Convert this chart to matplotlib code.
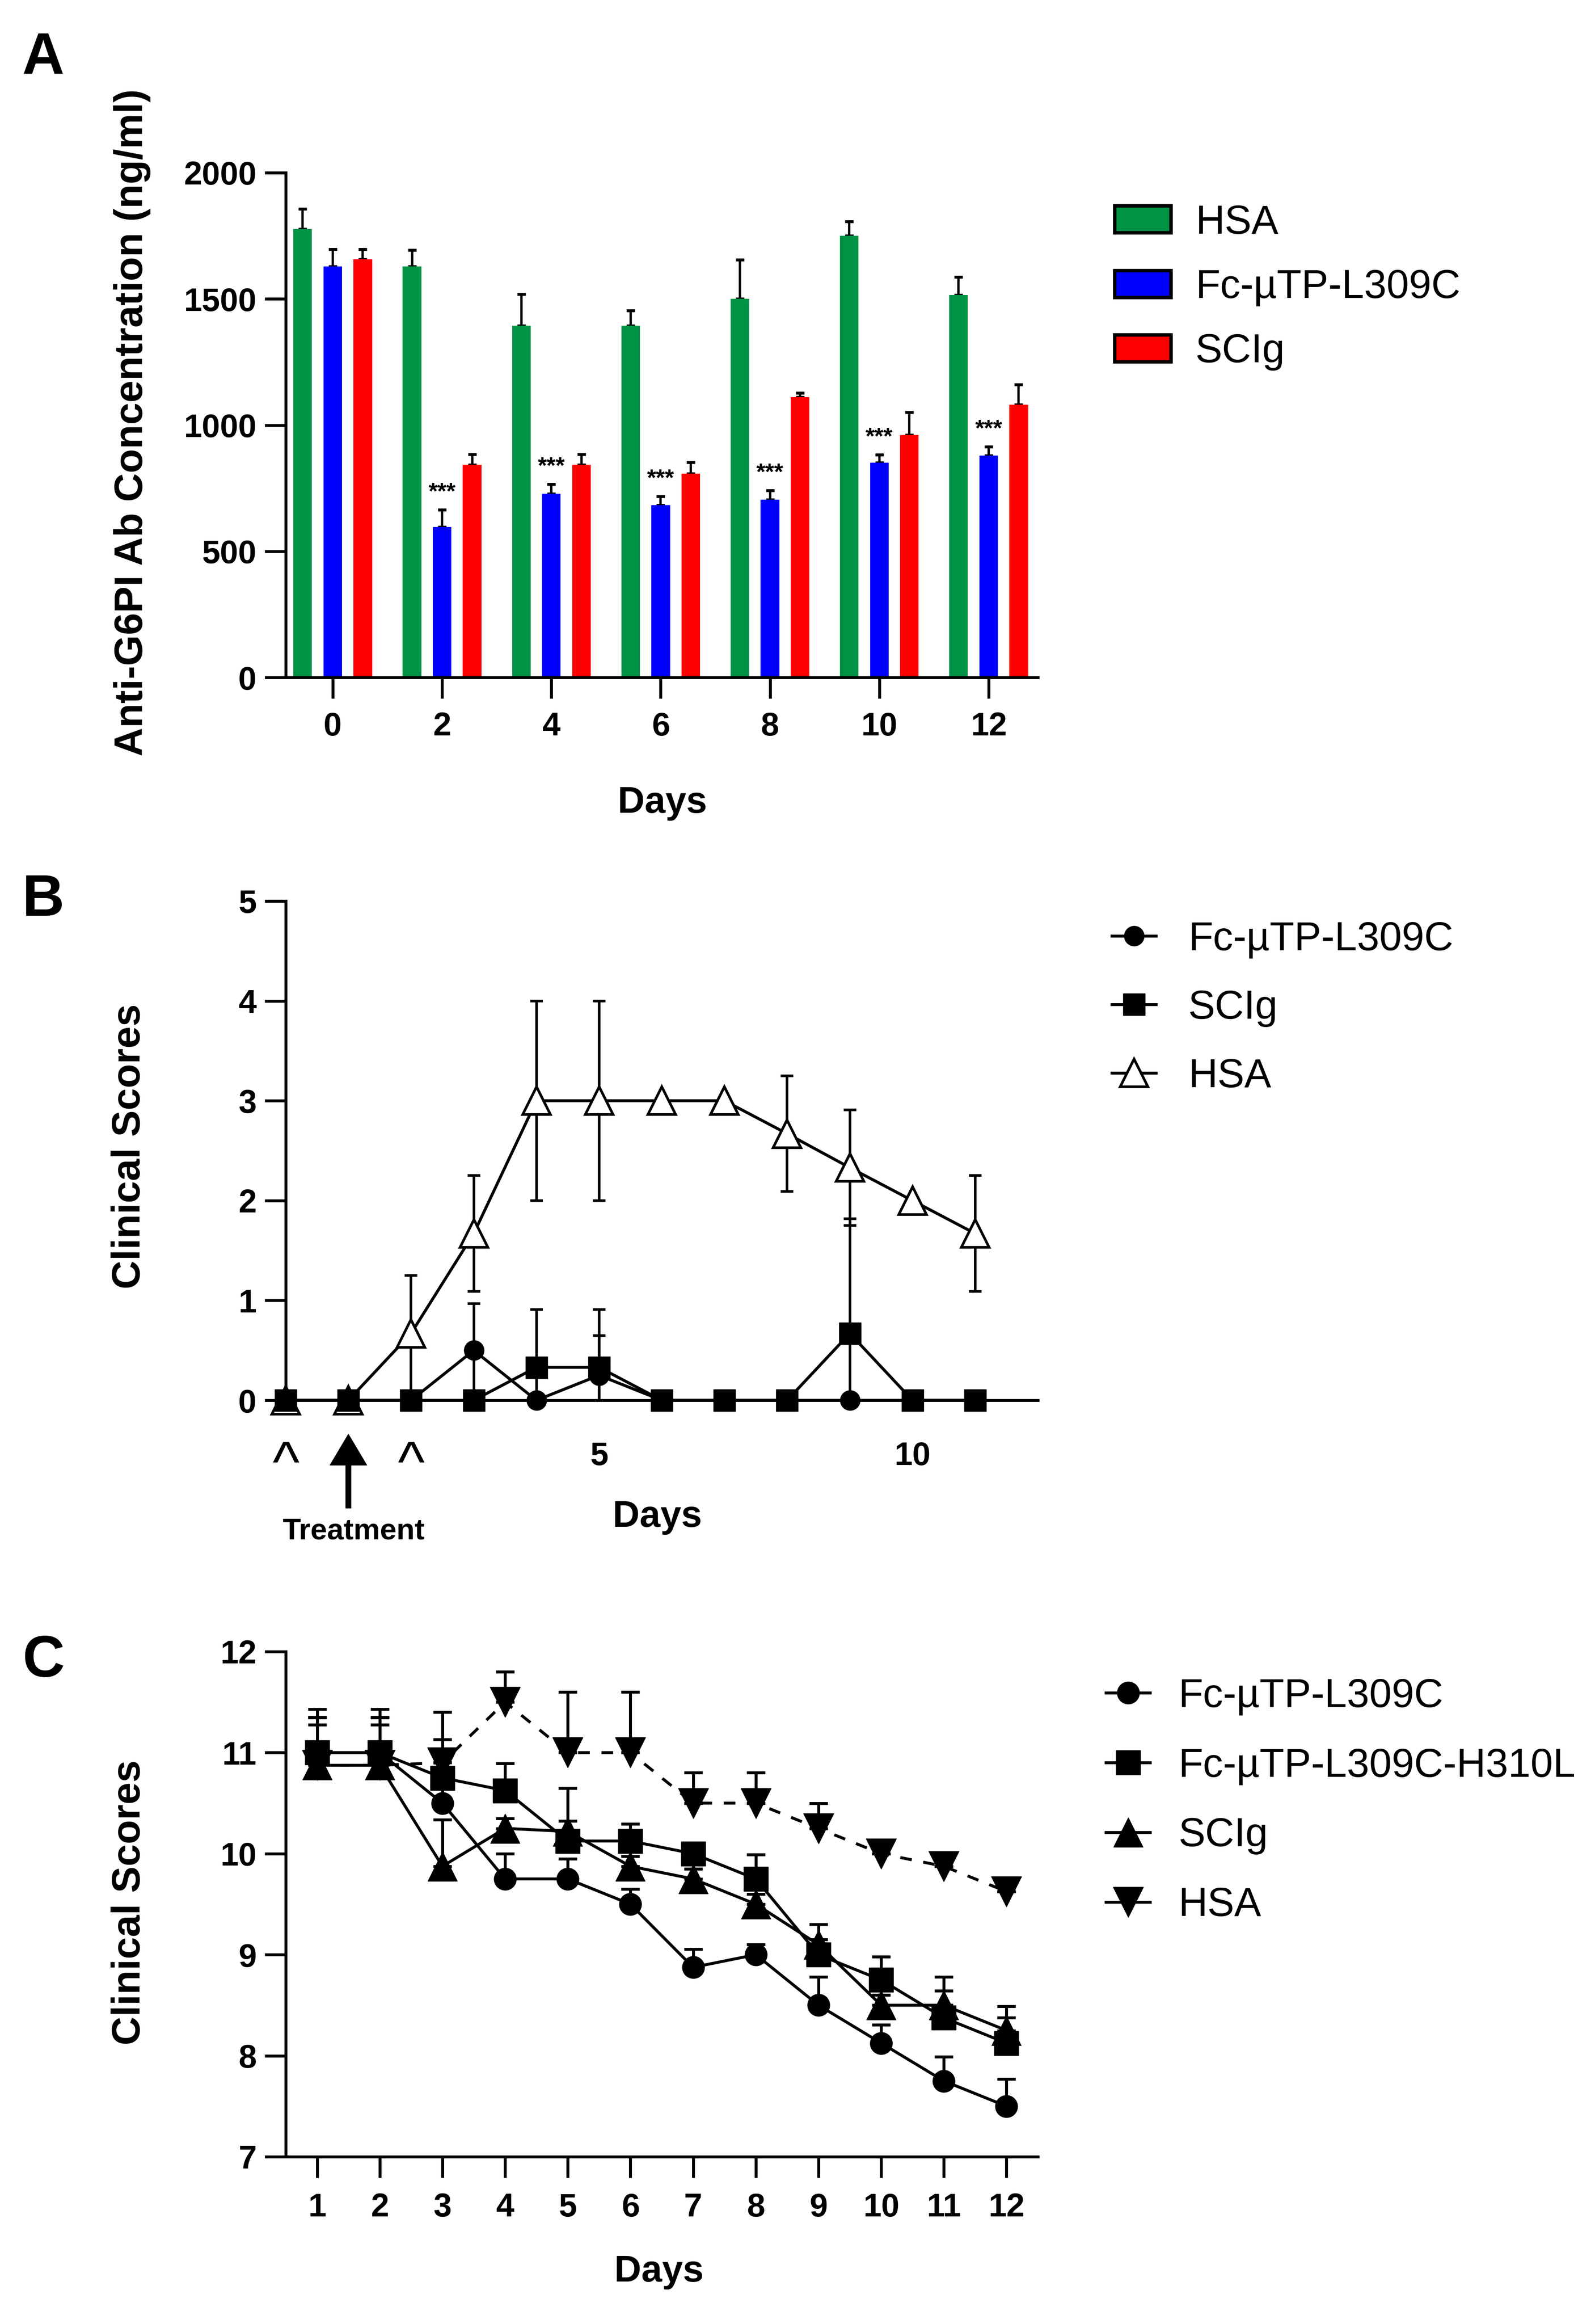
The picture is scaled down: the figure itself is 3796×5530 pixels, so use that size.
import numpy as np
import matplotlib
matplotlib.use("Agg")
import matplotlib.pyplot as plt
from matplotlib.patches import Patch
from matplotlib.lines import Line2D

plt.rcParams['font.family'] = ['Liberation Sans', 'DejaVu Sans']

# ---- panel A: antibody concentration (bars, mean + SEM)
days_a = [0, 2, 4, 6, 8, 10, 12]
hsa_a = [1777, 1629, 1394, 1394, 1500, 1750, 1515]
hsa_a_err = [79, 64, 125, 60, 155, 57, 72]
fc_a = [1629, 597, 728, 683, 705, 851, 880]
fc_a_err = [68, 67, 38, 34, 36, 31, 34]
scig_a = [1657, 842, 842, 808, 1111, 961, 1081]
scig_a_err = [40, 42, 42, 45, 17, 89, 79]
stars_a = ['', '***', '***', '***', '***', '***', '***']

# ---- panel B: clinical scores
days_b = [0, 1, 2, 3, 4, 5, 6, 7, 8, 9, 10, 11]
fc_b = [0, 0, 0, 0.5, 0, 0.25, 0, 0, 0, 0, 0, 0]
fc_b_err = [0, 0, 0, 0.47, 0, 0.4, 0, 0, 0, 0, 0, 0]
scig_b = [0, 0, 0, 0, 0.33, 0.33, 0, 0, 0, 0.67, 0, 0]
scig_b_err = [0, 0, 0, 0, 0.58, 0.58, 0, 0, 0, 1.15, 0, 0]
hsa_b = [0, 0, 0.67, 1.67, 3, 3, 3, 3, 2.67, 2.33, 2, 1.67]
hsa_b_err = [0, 0, 0.58, 0.58, 1, 1, 0, 0, 0.58, 0.58, 0, 0.58]

# ---- panel C: clinical scores
days_c = [1, 2, 3, 4, 5, 6, 7, 8, 9, 10, 11, 12]
fc_c = [11.0, 11.0, 10.5, 9.75, 9.75, 9.5, 8.875, 9.0, 8.5, 8.125, 7.75, 7.5]
fc_c_err = [0.35, 0.35, 0.2, 0.25, 0.2, 0.15, 0.18, 0.1, 0.28, 0.18, 0.24, 0.27]
h310_c = [11.0, 11.0, 10.75, 10.625, 10.125, 10.125, 10.0, 9.75, 9.0, 8.75, 8.375, 8.125]
h310_c_err = [0.43, 0.43, 0.38, 0.27, 0.2, 0.17, 0.1, 0.24, 0.15, 0.23, 0.27, 0.25]
scig_c = [10.875, 10.875, 9.875, 10.25, 10.22, 9.875, 9.75, 9.5, 9.1, 8.5, 8.5, 8.25]
scig_c_err = [0.47, 0.47, 0.46, 0.1, 0.43, 0.1, 0.1, 0.1, 0.2, 0.1, 0.28, 0.24]
hsa_c = [10.875, 10.875, 10.9, 11.5, 11.0, 11.0, 10.5, 10.5, 10.25, 10.0, 9.875, 9.625]
hsa_c_err = [0.4, 0.4, 0.5, 0.3, 0.6, 0.6, 0.3, 0.3, 0.25, 0, 0, 0]

green = '#009245'
blue = '#0000FF'
red = '#FF0000'

W, H = 3796, 5530
fig = plt.figure(figsize=(W / 100, H / 100), dpi=100)

TICK = dict(length=36, width=5, labelsize=56)
LBL = 69


def style(ax):
    for s in ['top', 'right']:
        ax.spines[s].set_visible(False)
    for s in ['left', 'bottom']:
        ax.spines[s].set_linewidth(5)
    ax.tick_params(axis='both', direction='out', **TICK)
    for t in ax.get_xticklabels() + ax.get_yticklabels():
        t.set_fontweight('bold')


def box(x0, y0, x1, y1):
    return [x0 / W, 1 - y1 / H, (x1 - x0) / W, (y1 - y0) / H]


# ================= A =================
axA = fig.add_axes(box(680, 411, 2470, 1612))
idx = np.arange(len(days_a))
bw = 0.17
off = 0.275
ekw = dict(elinewidth=4, capthick=5, ecolor='black')
for vals, errs, col, dx in [(hsa_a, hsa_a_err, green, -off),
                            (fc_a, fc_a_err, blue, 0),
                            (scig_a, scig_a_err, red, off)]:
    axA.bar(idx + dx, vals, width=bw, color=col, zorder=2)
    axA.errorbar(idx + dx, vals, yerr=[np.zeros(len(vals)), errs], fmt='none',
                 capsize=7, zorder=1, **ekw)
for i, s in enumerate(stars_a):
    if s:
        axA.text(i, fc_a[i] + fc_a_err[i] + 25, s, ha='center', va='bottom',
                 fontsize=40, fontweight='bold')
axA.set_xlim(-0.43, 6.45)
axA.set_ylim(0, 2000)
axA.set_yticks([0, 500, 1000, 1500, 2000])
axA.set_xticks(idx)
axA.set_xticklabels([str(d) for d in days_a])
style(axA)
axA.tick_params(axis='x', pad=22)
axA.tick_params(axis='y', pad=14)
axA.legend(handles=[Patch(facecolor=green, edgecolor='black', linewidth=6, label='HSA'),
                    Patch(facecolor=blue, edgecolor='black', linewidth=6, label='Fc-µTP-L309C'),
                    Patch(facecolor=red, edgecolor='black', linewidth=6, label='SCIg')],
           loc='upper left', bbox_to_anchor=(2653 / W, 1 - 486 / H),
           bbox_transform=fig.transFigure, frameon=False, fontsize=LBL,
           borderpad=0, handlelength=1.4, handleheight=0.65, handletextpad=0.6,
           labelspacing=0.66, borderaxespad=0)
fig.text(315 / W, 1 - 1005 / H, 'Anti-G6PI Ab Concentration (ng/ml)', rotation=90,
         ha='center', va='center', fontsize=68, fontweight='bold')
fig.text(1576 / W, 1 - 1911 / H, 'Days', ha='center', va='center',
         fontsize=64, fontweight='bold')

# ================= B =================
axB = fig.add_axes(box(680, 2144, 2470, 3332))
lw = 5
msB = dict(o=34, s=38, t=48)
eb = axB.errorbar(days_b, hsa_b, yerr=hsa_b_err, color='black', lw=lw, marker='^',
                  ms=msB['t'], mfc='white', mec='black', mew=4.5, capsize=11,
                  elinewidth=4.5, capthick=4.5, zorder=3)
eb[0].set_clip_on(False)
eb = axB.errorbar(days_b, fc_b, yerr=fc_b_err, color='black', lw=lw, marker='o',
                  ms=msB['o'], capsize=11, elinewidth=4.5, capthick=4.5, zorder=4)
eb[0].set_clip_on(False)
eb = axB.errorbar(days_b, scig_b, yerr=scig_b_err, color='black', lw=lw, marker='s',
                  ms=msB['s'], capsize=11, elinewidth=4.5, capthick=4.5, zorder=5)
eb[0].set_clip_on(False)
axB.set_xlim(0, 12)
axB.set_ylim(0, 5)
axB.set_yticks([0, 1, 2, 3, 4, 5])
axB.set_xticks([5, 10])
style(axB)
axB.tick_params(axis='x', length=0, pad=70)
axB.tick_params(axis='y', pad=14)
xb = axB.get_xaxis_transform()
for d in [0, 2]:
    axB.text(d, -0.1625, '^', transform=xb, ha='center', va='baseline', fontsize=98)
axB.annotate('', xy=(1, -0.068), xytext=(1, -0.216), xycoords=xb, textcoords=xb,
             arrowprops=dict(width=9, headwidth=63, headlength=53, shrink=0,
                             facecolor='black', edgecolor='black'),
             annotation_clip=False)
axB.text(1.08, -0.263, 'Treatment', transform=xb, ha='center', va='center',
         fontsize=51, fontweight='bold')
axB.legend(handles=[Line2D([], [], color='black', lw=lw, marker='o', ms=msB['o'], label='Fc-µTP-L309C'),
                    Line2D([], [], color='black', lw=lw, marker='s', ms=msB['s'], label='SCIg'),
                    Line2D([], [], color='black', lw=lw, marker='^', ms=msB['t'], mfc='white',
                           mew=4.5, label='HSA')],
           loc='upper left', bbox_to_anchor=(2646 / W, 1 - 2191 / H),
           bbox_transform=fig.transFigure, frameon=False, fontsize=LBL, numpoints=1,
           borderpad=0, handlelength=1.1, handletextpad=0.8, labelspacing=0.76,
           borderaxespad=0)
fig.text(309 / W, 1 - 2728 / H, 'Clinical Scores', rotation=90, ha='center',
         va='center', fontsize=68, fontweight='bold')
fig.text(1564 / W, 1 - 3610 / H, 'Days', ha='center', va='center',
         fontsize=64, fontweight='bold')

# ================= C =================
axC = fig.add_axes(box(680, 3930, 2470, 5132))
lwc = 5
msC = dict(o=38, s=42, t=50, v=52)
up = lambda e: [np.zeros(len(e)), e]
axC.errorbar(days_c, hsa_c, yerr=up(hsa_c_err), color='black', lw=lwc, ls=(0, (4, 4)),
             marker='v', ms=msC['v'], capsize=16, elinewidth=5, capthick=5, zorder=2)
axC.errorbar(days_c, fc_c, yerr=up(fc_c_err), color='black', lw=lwc, marker='o',
             ms=msC['o'], capsize=16, elinewidth=5, capthick=5, zorder=3)
axC.errorbar(days_c, h310_c, yerr=up(h310_c_err), color='black', lw=lwc, marker='s',
             ms=msC['s'], capsize=16, elinewidth=5, capthick=5, zorder=4)
axC.errorbar(days_c, scig_c, yerr=up(scig_c_err), color='black', lw=lwc, marker='^',
             ms=msC['t'], capsize=16, elinewidth=5, capthick=5, zorder=5)
axC.set_xlim(0.5, 12.5)
axC.set_ylim(7, 12)
axC.set_yticks([7, 8, 9, 10, 11, 12])
axC.set_xticks(days_c)
style(axC)
axC.tick_params(axis='x', pad=25)
axC.tick_params(axis='y', pad=14)
axC.legend(handles=[Line2D([], [], color='black', lw=lwc, marker='o', ms=msC['o'], label='Fc-µTP-L309C'),
                    Line2D([], [], color='black', lw=lwc, marker='s', ms=msC['s'], label='Fc-µTP-L309C-H310L'),
                    Line2D([], [], color='black', lw=lwc, marker='^', ms=msC['t'], label='SCIg'),
                    Line2D([], [], color='black', lw=lwc, marker='v', ms=msC['v'], label='HSA')],
           loc='upper left', bbox_to_anchor=(2632 / W, 1 - 3992 / H),
           bbox_transform=fig.transFigure, frameon=False, fontsize=LBL, numpoints=1,
           borderpad=0, handlelength=1.1, handletextpad=0.7, labelspacing=0.79,
           borderaxespad=0)
fig.text(309 / W, 1 - 4527 / H, 'Clinical Scores', rotation=90, ha='center',
         va='center', fontsize=68, fontweight='bold')
fig.text(1568 / W, 1 - 5406 / H, 'Days', ha='center', va='center',
         fontsize=64, fontweight='bold')

# panel letters
for lab, yb in [('A', 176), ('B', 2179), ('C', 3990)]:
    fig.text(53 / W, 1 - yb / H, lab, ha='left', va='baseline', fontsize=100,
             fontweight='bold')

fig.savefig('out.png', dpi=100)
